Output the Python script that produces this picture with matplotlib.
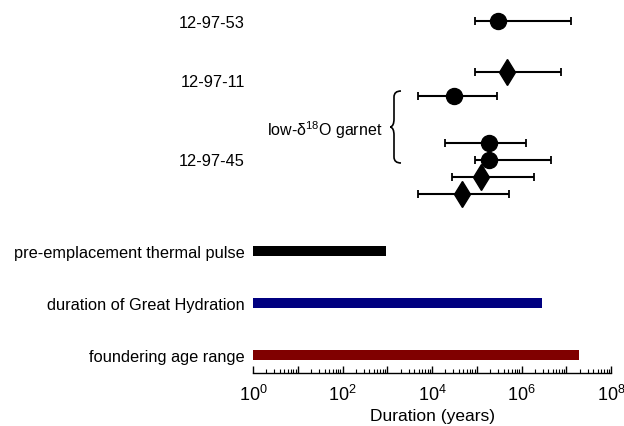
import numpy as np
import matplotlib.pyplot as plt
from matplotlib.path import Path
from matplotlib.patches import PathPatch
import matplotlib.transforms as mtransforms

plt.rcParams['font.family'] = ['Liberation Sans', 'DejaVu Sans']
plt.rcParams['mathtext.fontset'] = 'custom'
plt.rcParams['mathtext.rm'] = 'Liberation Sans'

# garnet durations (log10 years): centre, lower, upper
pt_center = [5.48, 5.67, 4.49, 5.27, 5.27, 5.10, 4.66]
pt_low = [4.96, 4.96, 3.68, 4.28, 4.96, 4.45, 3.69]
pt_high = [7.11, 6.88, 5.46, 6.11, 6.67, 6.27, 5.71]
pt_marker = ['o', 'd', 'o', 'o', 'o', 'd', 'd']
pt_row = [22, 73, 97, 144, 161, 178, 195]

# duration bars (log10 years)
bar_names = ['pre-emplacement thermal pulse', 'duration of Great Hydration', 'foundering age range']
bar_end = [2.97, 6.46, 7.28]
bar_colors = ['#000000', '#000080', '#800000']
bar_row = [252, 304, 356]

sample_names = ['12-97-53', '12-97-11', '12-97-45']
sample_row = [22, 81, 160]

fig = plt.figure(figsize=(6.24, 4.27), dpi=100)
ax = fig.add_axes([253 / 624, 1 - 374 / 427, 358 / 624, 374 / 427])
ax.set_xscale('log')
ax.set_xlim(1, 1e8)
ax.set_ylim(374, 0)

for c, lo, hi, m, r in zip(pt_center, pt_low, pt_high, pt_marker, pt_row):
    c, lo, hi = 10 ** c, 10 ** lo, 10 ** hi
    ms = 11.5 if m == 'o' else 13.5
    ax.errorbar([c], [r], xerr=[[c - lo], [hi - c]], fmt=m, color='black',
                markersize=ms, elinewidth=1.5, capsize=3, capthick=1.3, zorder=3)

for end, col, r in zip(bar_end, bar_colors, bar_row):
    ax.barh(r, 10 ** end, left=1, height=10, color=col, edgecolor='none')

ax.set_yticks(sample_row + bar_row)
ax.set_yticklabels(sample_names + bar_names, fontsize=11.8)
ax.tick_params(axis='y', length=0, pad=6)

for s in ['top', 'right', 'left']:
    ax.spines[s].set_visible(False)
ax.spines['bottom'].set_linewidth(1.0)
ax.xaxis.set_major_locator(plt.LogLocator(base=10, numticks=20))
ax.xaxis.set_major_formatter(plt.FuncFormatter(lambda v, p: r'$10^{%d}$' % int(round(np.log10(v))) if int(round(np.log10(v))) % 2 == 0 else ''))
ax.xaxis.set_minor_locator(plt.LogLocator(base=10, subs=np.arange(2, 10), numticks=20))
ax.tick_params(axis='x', which='major', direction='in', length=5, width=1, labelsize=13, pad=8)
ax.tick_params(axis='x', which='minor', direction='in', length=3, width=0.8)
ax.set_xlabel('Duration (years)', fontsize=12.5, labelpad=2.5)

# brace and label for low-d18O garnet
trans = mtransforms.blended_transform_factory(ax.transAxes, ax.transData)
xa = (401 - 253) / 358
xt = (394 - 253) / 358
top, mid, bot = 92, 128, 164
verts = [(xa, top), (xt, top), (xt, top + 6), (xt, top + 12),
         (xt, mid - 8), (xt, mid - 1), (xt - 0.01, mid),
         (xt, mid + 1), (xt, mid + 8),
         (xt, bot - 12), (xt, bot - 6), (xt, bot), (xa, bot)]
codes = [Path.MOVETO, Path.CURVE3, Path.CURVE3, Path.LINETO,
         Path.LINETO, Path.CURVE3, Path.CURVE3,
         Path.CURVE3, Path.CURVE3,
         Path.LINETO, Path.LINETO, Path.CURVE3, Path.CURVE3]
ax.add_patch(PathPatch(Path(verts, codes), transform=trans, fill=False, lw=1.2, color='black'))
ax.text((383 - 253) / 358, 130, r'low-δ$^{18}$O garnet', transform=trans,
        ha='right', va='center', fontsize=11.5)

plt.savefig('out.png', dpi=100)
